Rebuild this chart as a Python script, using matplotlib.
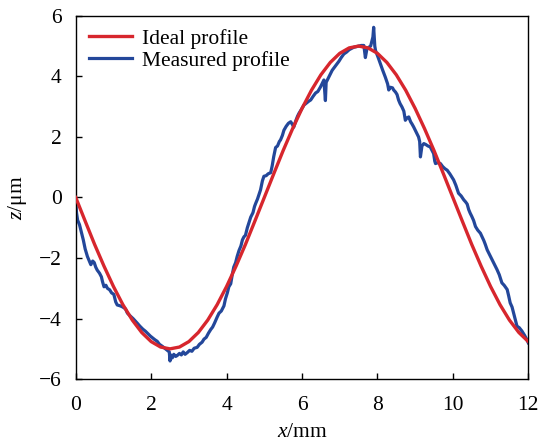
import numpy as np
import matplotlib
matplotlib.use("Agg")
import matplotlib.pyplot as plt

plt.rcParams['font.family'] = ['Liberation Serif', 'DejaVu Serif']
plt.rcParams['mathtext.fontset'] = 'custom'
plt.rcParams['mathtext.rm'] = 'Liberation Serif'
plt.rcParams['mathtext.it'] = 'Liberation Serif:italic'

# Ideal profile, sampled every 0.25 mm
x_ideal = [i * 0.25 for i in range(49)]
z_ideal = [0, -0.78, -1.55, -2.27, -2.94, -3.54, -4.05, -4.46, -4.76, -4.94,
           -5.00, -4.94, -4.76, -4.46, -4.05, -3.54, -2.94, -2.27, -1.55, -0.78,
           0, 0.78, 1.55, 2.27, 2.94, 3.54, 4.05, 4.46, 4.76, 4.94,
           5.00, 4.94, 4.76, 4.46, 4.05, 3.54, 2.94, 2.27, 1.55, 0.78,
           0, -0.78, -1.55, -2.27, -2.94, -3.54, -4.05, -4.46, -4.76]

# Measured profile
x_meas = [0.00, 0.02, 0.05, 0.10, 0.15, 0.20, 0.25, 0.31, 0.36, 0.40, 0.45, 0.49, 0.53, 0.57,
          0.63, 0.68, 0.71, 0.75, 0.80, 0.84, 0.90, 0.95, 1.01, 1.06, 1.10, 1.18, 1.25, 1.32,
          1.37, 1.45, 1.52, 1.58, 1.63, 1.70, 1.78, 1.85, 1.90, 1.98, 2.05, 2.10, 2.16, 2.22,
          2.30, 2.36, 2.43, 2.48, 2.50, 2.52, 2.56, 2.60, 2.65, 2.69, 2.75, 2.80, 2.85, 2.90,
          2.96, 3.02, 3.08, 3.14, 3.22, 3.28, 3.35, 3.40, 3.46, 3.52, 3.58, 3.63, 3.68, 3.75,
          3.80, 3.86, 3.93, 3.97, 4.02, 4.06, 4.11, 4.15, 4.19, 4.24, 4.28, 4.33, 4.38, 4.42,
          4.46, 4.50, 4.55, 4.60, 4.64, 4.70, 4.74, 4.77, 4.82, 4.86, 4.90, 4.95, 4.99, 5.05,
          5.10, 5.17, 5.21, 5.25, 5.30, 5.35, 5.40, 5.43, 5.48, 5.52, 5.58, 5.64, 5.70, 5.75,
          5.78, 5.84, 5.88, 5.92, 5.98, 6.05, 6.12, 6.18, 6.23, 6.30, 6.36, 6.42, 6.49, 6.55,
          6.58, 6.62, 6.64, 6.70, 6.75, 6.80, 6.86, 6.93, 6.98, 7.04, 7.11, 7.18, 7.25, 7.31,
          7.37, 7.44, 7.50, 7.57, 7.64, 7.68, 7.72, 7.77, 7.82, 7.88, 7.90, 7.93, 7.95, 8.02,
          8.08, 8.14, 8.21, 8.27, 8.30, 8.34, 8.40, 8.43, 8.48, 8.52, 8.56, 8.60, 8.65, 8.70,
          8.74, 8.78, 8.83, 8.88, 8.92, 8.96, 9.02, 9.09, 9.12, 9.14, 9.18, 9.23, 9.28, 9.34,
          9.40, 9.45, 9.49, 9.52, 9.54, 9.60, 9.67, 9.73, 9.79, 9.85, 9.92, 9.97, 10.02, 10.08,
          10.15, 10.22, 10.29, 10.34, 10.38, 10.42, 10.46, 10.50, 10.55, 10.60, 10.66, 10.73,
          10.77, 10.82, 10.86, 10.91, 10.97, 11.04, 11.10, 11.17, 11.23, 11.30, 11.36, 11.44,
          11.48, 11.52, 11.57, 11.61, 11.66, 11.70, 11.76, 11.83, 11.90, 11.96, 12.00]
z_meas = [-0.10, -0.50, -0.75, -0.90, -1.15, -1.40, -1.70, -1.95, -2.10, -2.22, -2.10, -2.15, -2.30, -2.40,
          -2.50, -2.62, -2.78, -2.95, -2.90, -3.00, -3.05, -3.15, -3.20, -3.45, -3.55, -3.58, -3.62, -3.68,
          -3.82, -3.92, -4.00, -4.08, -4.15, -4.25, -4.35, -4.42, -4.48, -4.58, -4.65, -4.70, -4.75, -4.85,
          -4.92, -4.98, -5.05, -5.10, -5.40, -5.20, -5.30, -5.18, -5.25, -5.22, -5.15, -5.20, -5.10, -5.18,
          -5.12, -5.05, -5.08, -4.98, -4.95, -4.85, -4.78, -4.68, -4.62, -4.48, -4.36, -4.28, -4.15, -3.95,
          -3.82, -3.75, -3.58, -3.35, -3.15, -2.95, -2.85, -2.55, -2.30, -2.15, -1.95, -1.75, -1.60, -1.40,
          -1.30, -1.25, -1.00, -0.80, -0.65, -0.50, -0.30, -0.20, -0.05, 0.10, 0.25, 0.55, 0.70, 0.72,
          0.78, 0.82, 1.05, 1.35, 1.65, 1.70, 1.85, 1.90, 2.05, 2.22, 2.35, 2.45, 2.50, 2.40,
          2.32, 2.55, 2.68, 2.78, 2.90, 3.05, 3.12, 3.18, 3.22, 3.35, 3.45, 3.50, 3.65, 3.80,
          3.88, 3.20, 3.80, 3.95, 4.08, 4.20, 4.30, 4.42, 4.50, 4.62, 4.74, 4.80, 4.88, 4.92,
          4.96, 4.98, 5.00, 5.02, 5.02, 4.62, 4.90, 4.96, 5.00, 5.30, 5.62, 5.00, 4.85, 4.62,
          4.41, 4.20, 3.97, 3.75, 3.55, 3.64, 3.62, 3.55, 3.48, 3.40, 3.22, 3.10, 2.99, 2.85,
          2.55, 2.62, 2.66, 2.50, 2.42, 2.33, 2.18, 2.00, 1.85, 1.34, 1.70, 1.78, 1.75, 1.70,
          1.67, 1.55, 1.45, 1.20, 1.12, 1.15, 1.12, 1.02, 0.95, 0.90, 0.78, 0.68, 0.58, 0.40,
          0.14, 0.05, -0.08, -0.15, -0.22, -0.40, -0.52, -0.62, -0.76, -0.96, -1.08, -1.18,
          -1.29, -1.42, -1.55, -1.73, -1.88, -2.06, -2.20, -2.38, -2.55, -2.82, -2.90, -3.04,
          -3.25, -3.48, -3.62, -3.81, -4.05, -4.25, -4.30, -4.41, -4.55, -4.69, -4.80]

fig = plt.figure(figsize=(5.41, 4.45), dpi=100)
ax = fig.add_axes([0.140, 0.148, 0.8365, 0.8165])

ax.plot(x_ideal, z_ideal, color='#d7262d', lw=2.4, label='Ideal profile', zorder=3)
ax.plot(x_meas, z_meas, color='#23479a', lw=2.3, label='Measured profile', zorder=2)

ax.set_xlim(0, 12)
ax.set_ylim(-6, 6)
ax.set_xticks(np.arange(0, 13, 2))
ax.set_yticks(np.arange(-6, 7, 2))
ax.tick_params(direction='in', length=4.5, width=1, labelsize=15.5, pad=10)
ax.tick_params(axis='x', pad=12)
ax.set_yticklabels(['\u22126', '\u22124', '\u22122', '0', '2', '4', '6'])
for s in ax.spines.values():
    s.set_linewidth(1)

ax.set_xlabel(r'$\it{x}$/mm', fontsize=15.5, labelpad=6)
ax.set_ylabel(r'$\it{z}$/μm', fontsize=15.5, labelpad=7)

ax.legend(loc='upper left', frameon=False, fontsize=15.5, handlelength=2.0,
          handletextpad=0.5, labelspacing=0.1, borderaxespad=0.2,
          bbox_to_anchor=(0.0, 1.0))

fig.savefig('out.png', dpi=100)
